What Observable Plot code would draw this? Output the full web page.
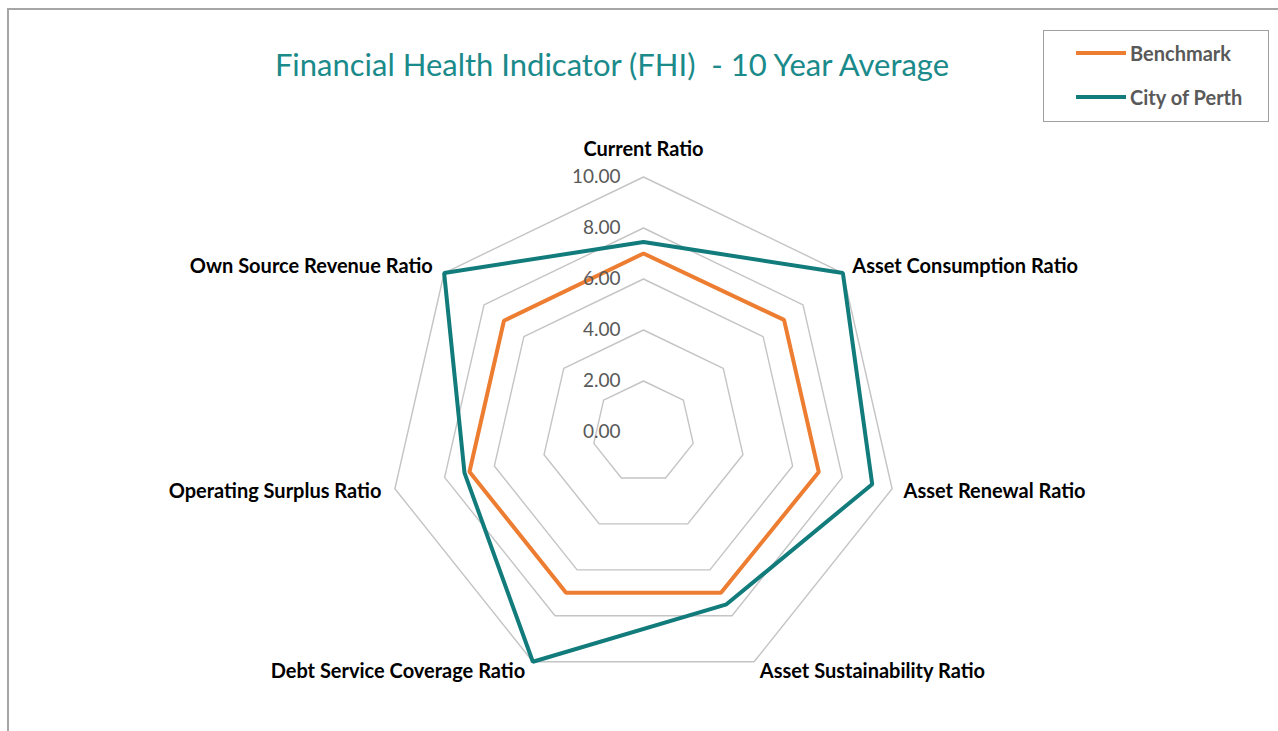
<!DOCTYPE html>
<html>
<head>
<meta charset="utf-8">
<script src="https://cdn.jsdelivr.net/npm/d3@7"></script>
<script src="https://cdn.jsdelivr.net/npm/@observablehq/plot@0.6"></script>
<style>
  html, body { margin: 0; padding: 0; background: #fff; }
  body { width: 1278px; height: 731px; position: relative; overflow: hidden; font-family: Lato, "Open Sans", sans-serif; }
  #frame { position: absolute; left: 7px; top: 8px; width: 1300px; height: 760px; border-top: 2px solid #a6a6a6; border-left: 2px solid #a6a6a6; }
  #title { position: absolute; left: 0; top: 46px; width: 1224px; text-align: center; font-size: 31px; line-height: 36px; color: #1a8a8a; white-space: nowrap; }
  #legend { position: absolute; left: 1043px; top: 30px; width: 224px; height: 90px; border: 1.5px solid #a0a0a0; background: #fff; }
  .item { position: absolute; left: 32px; height: 24px; display: flex; align-items: center; font-size: 20px; font-weight: bold; color: #595959; white-space: nowrap; }
  .sw { width: 50px; height: 4px; margin-right: 4px; }
  #chart { position: absolute; left: 0; top: 130px; }
</style>
</head>
<body>
<div id="frame"></div>
<div id="title">Financial Health Indicator (FHI)&nbsp; - 10 Year Average</div>
<div id="legend"></div>
<div id="chart"></div>
<script>
// ---- data ----
const categories = [
  "Current Ratio",
  "Asset Consumption Ratio",
  "Asset Renewal Ratio",
  "Asset Sustainability Ratio",
  "Debt Service Coverage Ratio",
  "Operating Surplus Ratio",
  "Own Source Revenue Ratio"
];
const seriesNames = ["Benchmark", "City of Perth"];
const benchmark = [7.0, 7.05, 7.05, 7.0, 7.0, 7.0, 7.0];
const cityOfPerth = [7.45, 10.0, 9.2, 7.5, 10.0, 7.2, 10.0];
const gridLevels = [2, 4, 6, 8, 10];
const tickLabels = ["0.00", "2.00", "4.00", "6.00", "8.00", "10.00"];
const seriesColors = ["#ED7D31", "#127B7B"];

// ---- geometry helpers ----
const n = categories.length;
const ang = i => i * 2 * Math.PI / n;
const px = (v, i) => v * Math.sin(ang(i));
const py = (v, i) => v * Math.cos(ang(i));

const gridData = gridLevels.flatMap(level => categories.map((c, i) => ({level, x: px(level, i), y: py(level, i)})));
const seriesValues = [benchmark, cityOfPerth];
const seriesData = seriesNames.flatMap((s, si) => categories.map((c, i) => ({series: s, x: px(seriesValues[si][i], i), y: py(seriesValues[si][i], i)})));
const maxV = d3.max(gridLevels);
const labelR = maxV + 0.42;
const labelData = categories.map((c, i) => ({name: c, i, x: px(labelR, i), y: py(labelR, i), s: Math.sin(ang(i))}));

// ---- layout ----
const W = 1278, H = 601, cx = 643, cy = 301.5, k = 25.5;
const labelFont = 20;

const chart = Plot.plot({
  width: W,
  height: H,
  margin: 0,
  style: {fontFamily: "Lato, 'Open Sans', sans-serif", background: "transparent"},
  x: {domain: [-cx / k, (W - cx) / k], axis: null},
  y: {domain: [-(H - cy) / k, cy / k], axis: null},
  color: {domain: seriesNames, range: seriesColors},
  marks: [
    Plot.line(gridData, {x: "x", y: "y", z: "level", curve: "linear-closed", stroke: "#c4c4c4", strokeWidth: 1.4}),
    Plot.line(seriesData.filter(d => d.series === "City of Perth"), {x: "x", y: "y", z: "series", stroke: "series", curve: "linear-closed", strokeWidth: 4, strokeLinejoin: "miter"}),
    Plot.line(seriesData.filter(d => d.series === "Benchmark"), {x: "x", y: "y", z: "series", stroke: "series", curve: "linear-closed", strokeWidth: 4, strokeLinejoin: "miter"}),
    Plot.text(tickLabels, {x: 0, y: d => +d, text: d => d, textAnchor: "end", dx: -23, fill: "#595959", fontSize: 19}),
    Plot.text(labelData.filter(d => Math.abs(d.s) < 0.1), {x: "x", y: "y", text: "name", textAnchor: "middle", dy: -17, fontWeight: "bold", fontSize: labelFont, fill: "#000"}),
    Plot.text(labelData.filter(d => d.s >= 0.1), {x: "x", y: "y", text: "name", textAnchor: "start", dx: 1, fontWeight: "bold", fontSize: labelFont, fill: "#000"}),
    Plot.text(labelData.filter(d => d.s <= -0.1), {x: "x", y: "y", text: "name", textAnchor: "end", dx: -3, fontWeight: "bold", fontSize: labelFont, fill: "#000"})
  ]
});
document.getElementById("chart").appendChild(chart);

// ---- legend ----
const legend = document.getElementById("legend");
seriesNames.forEach((s, i) => {
  const item = document.createElement("div");
  item.className = "item";
  item.style.top = (i === 0 ? 10 : 54) + "px";
  const sw = document.createElement("span");
  sw.className = "sw";
  sw.style.background = seriesColors[i];
  const t = document.createElement("span");
  t.textContent = s;
  item.appendChild(sw);
  item.appendChild(t);
  legend.appendChild(item);
});
</script>
</body>
</html>
